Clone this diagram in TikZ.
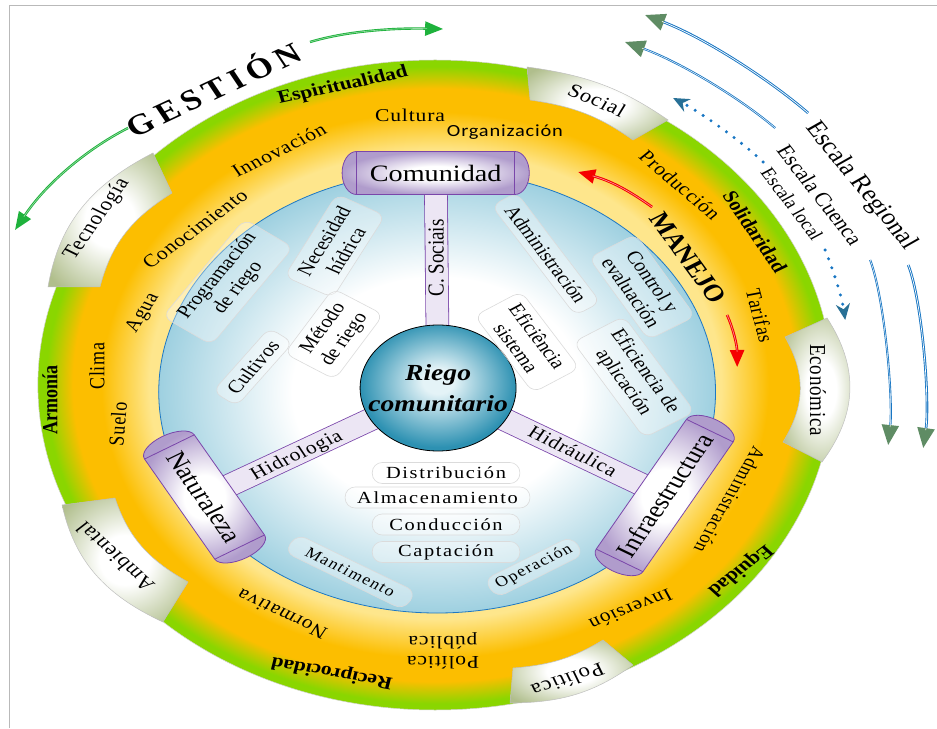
\documentclass[tikz,border=0pt]{standalone}
\usepackage{fontspec}
\setmainfont{Liberation Serif}
\newfontfamily\sansf[LetterSpace=4]{Carlito}
\newfontfamily\spcf[LetterSpace=4]{Liberation Serif}
\newfontfamily\widef[LetterSpace=8]{Liberation Serif}
\usetikzlibrary{arrows.meta}
\definecolor{ringG}{RGB}{138,214,0}
\definecolor{ringO}{RGB}{252,190,0}
\definecolor{ringY}{RGB}{254,230,140}
\definecolor{blueE}{RGB}{158,208,224}
\definecolor{blueL}{RGB}{30,120,195}
\definecolor{riegoD}{RGB}{45,145,178}
\definecolor{riegoL}{RGB}{228,243,247}
\definecolor{cylP}{RGB}{176,156,204}
\definecolor{cylB}{RGB}{122,70,170}
\definecolor{barF}{RGB}{236,230,244}
\definecolor{tabG}{RGB}{176,190,140}
\definecolor{arrG}{RGB}{30,178,60}
\definecolor{escB}{RGB}{25,118,195}
\definecolor{escH}{RGB}{95,140,100}
\definecolor{dotH}{RGB}{40,112,150}
\definecolor{arrR}{RGB}{245,0,0}
\pgfdeclareradialshading{ringshade}{\pgfpoint{0bp}{0bp}}{color(0bp)=(ringY); color(18bp)=(ringY); color(21bp)=(ringO); color(22.8bp)=(ringO); color(24.5bp)=(ringG); color(25bp)=(ringG); color(50bp)=(ringG)}
\pgfdeclareradialshading{blueshade}{\pgfpoint{0bp}{0bp}}{color(0bp)=(white); color(13bp)=(white); color(25bp)=(blueE); color(50bp)=(blueE)}
\pgfdeclareradialshading{riegoshade}{\pgfpoint{0bp}{3bp}}{color(0bp)=(riegoL); color(5bp)=(riegoL); color(25bp)=(riegoD); color(50bp)=(riegoD)}
\pgfdeclareradialshading{cylshade}{\pgfpoint{0bp}{0bp}}{color(0bp)=(white); color(8bp)=(white); color(25bp)=(cylP); color(50bp)=(cylP)}
\pgfdeclareradialshading{tabshade}{\pgfpoint{0bp}{0bp}}{color(0bp)=(white); color(10bp)=(white); color(32bp)=(tabG); color(50bp)=(tabG)}
\newcommand\cylbody[2]{%
  \shade[shading=cylshade, draw=cylB, line width=0.8pt] (-#1,-#2) -- (#1,-#2)
    arc[start angle=-90,end angle=90,x radius=12,y radius=#2] -- (-#1,#2)
    arc[start angle=90,end angle=270,x radius=12,y radius=#2] -- cycle;
  \draw[cylB, line width=0.8pt] (-#1,-#2) -- (-#1,#2) (#1,-#2) -- (#1,#2);}
\begin{document}
\begin{tikzpicture}[x=1pt,y=1pt,xscale=1.2,transform shape,
  every node/.style={inner sep=0pt, text=black},
  ringtxt/.style={font=\spcf\fontsize{18}{20}\selectfont},
  ringbold/.style={font=\bfseries\fontsize{18}{20}\selectfont},
  tabtxt/.style={font=\spcf\fontsize{19}{21}\selectfont},
  cyltxt/.style={font=\fontsize{23.5}{25}\selectfont},
  boxtxt/.style={draw=gray!28, line width=0.6pt, rounded corners=9pt, fill=white, fill opacity=0.35, text opacity=1, inner xsep=9pt, inner ysep=6pt, align=center, font=\fontsize{18}{21}\selectfont},
  pill/.style={draw=gray!28, line width=0.6pt, rounded corners=10pt, fill=white, fill opacity=0.35, text opacity=1, font=\widef\fontsize{17}{18}\selectfont, minimum height=21pt, minimum width=123pt},
  tabsh/.style={shading=tabshade, draw=gray!50, line width=0.5pt},
  bar/.style={draw=cylB, line width=0.8pt, double=barF, double distance=22pt},
  garrow/.style={draw=arrG, line width=2.4pt, -{Triangle[length=18pt,width=14pt]}},
  gline/.style={draw=white!55!arrG, line width=0.6pt, shorten >=16pt},
  rarrow/.style={draw=arrR, line width=2.6pt, -{Triangle[length=17pt,width=14pt]}},
  rline/.style={draw=white!60!arrR, line width=0.6pt, shorten >=15pt},
  escarrow/.style={draw=escB, line width=2.6pt, -{Triangle[length=20pt,width=17pt,color=escH]}},
  escline/.style={draw=white, line width=0.7pt, shorten >=18pt},
  dotarrow/.style={draw=escB, line width=3.4pt, dash pattern=on 0pt off 9.5pt, line cap=round, -{Stealth[length=16pt,width=14pt,color=dotH]}}
]
\useasboundingbox (0,0) rectangle (780.83,728);
% frame
\coordinate (fa) at (8.3,0);
\coordinate (fb) at (8.3,722);
\coordinate (fc) at (781,722);
\draw[gray!55, line width=1pt] (fa) -- (fb) -- (fc);
% main centres
\coordinate (ctr) at (362.5,343);
\coordinate (bctr) at (364.2,336);
\coordinate (rc) at (365,340);
\coordinate (comunC) at (363,555);
\coordinate (naturC) at (170.4,231);
\coordinate (infraC) at (553.8,232.5);
% outer ring
\shade[shading=ringshade, draw=gray!35, line width=0.5pt] (ctr) ellipse [x radius=331, y radius=325];
% tabs
\shade[tabsh] (689.2,410) to[bend left=30] (685,266) -- (652.5,286) to[bend right=26] (654.2,391) -- cycle;
\shade[tabsh] (439.2,661) to[bend left=15] (556.7,608) -- (527.5,588) to[bend right=15] (441.7,628) -- cycle;
\shade[tabsh] (40,441) to[bend left=25] (127.5,575) -- (143.3,535) to[bend right=20] (83.3,441) -- cycle;
\shade[tabsh] (135.8,106) to[bend left=25] (51.7,223) -- (95.8,230) to[bend right=20] (156.7,146) -- cycle;
\shade[tabsh] (527.5,63) to[bend left=20] (425,25) -- (427.5,60) to[bend right=15] (502.5,88) -- cycle;
% inner blue field
\shade[shading=blueshade, draw=blueL, line width=0.8pt] (bctr) ellipse [x radius=232, y radius=221];
% bars (connectors)
\draw[bar] (comunC) -- (rc);
\draw[bar] (naturC) -- (rc);
\draw[bar] (infraC) -- (rc);
% central circle
\shade[shading=riegoshade, draw=black, line width=0.8pt] (rc) ellipse [x radius=65, y radius=63];
\node[font=\bfseries\itshape\fontsize{23}{31}\selectfont, align=center] (riego) at (rc) {Riego\\comunitario};
% cylinders
\begin{scope}[shift={(comunC)}] \cylbody{66}{21.5} \end{scope}
\node[cyltxt] (comun) at (comunC) {Comunidad};
\begin{scope}[shift={(naturC)}, rotate=-59.7] \cylbody{58}{24} \end{scope}
\node[cyltxt, rotate=-59.7] (natur) at (naturC) {Naturaleza};
\begin{scope}[shift={(infraC)}, rotate=59.9] \cylbody{75}{22.5} \end{scope}
\node[cyltxt, rotate=59.9] (infra) at (infraC) {Infraestructura};
% bar labels
\node[font=\fontsize{19}{20}\selectfont, rotate=90] (csoc) at (363.6,470) {C. Sociais};
\node[font=\spcf\fontsize{18}{20}\selectfont, rotate=29] (hidrol) at (247.5,272) {Hidrologia};
\node[font=\spcf\fontsize{18}{20}\selectfont, rotate=-30.5] (hidrau) at (477.5,277) {Hidráulica};
% inner boxes
\node[boxtxt, rotate=55] (prog) at (190,446) {Programación\\de riego};
\node[boxtxt, rotate=62] (neces) at (279,482) {Necesidad\\hídrica};
\node[boxtxt, rotate=58] (metodo) at (278.3,394) {Método\\de riego};
\node[boxtxt, rotate=53.5] (cultiv) at (210.8,361) {Cultivos};
\node[boxtxt, rotate=-57.5] (admin) at (455,474) {Administración};
\node[boxtxt, rotate=-58.8] (control) at (535,441) {Control y\\evaluación};
\node[boxtxt, rotate=-57.6] (efsis) at (439.2,386) {Eficiência\\sistema};
\node[boxtxt, rotate=-58.3] (efapl) at (528.3,351) {Eficiencia de\\aplicación};
\node[pill] (distr) at (371.7,255) {Distribución};
\node[pill, minimum width=154pt] (almac) at (364.6,230.5) {Almacenamiento};
\node[pill] (conduc) at (371.7,203.5) {Conducción};
\node[pill] (capt) at (371.7,176) {Captación};
\node[pill, rotate=-30.3, minimum width=115pt, font=\widef\fontsize{15}{16}\selectfont] (mant) at (292,156) {Mantimento};
\node[pill, rotate=31, minimum width=85pt, font=\widef\fontsize{15}{16}\selectfont] (oper) at (445,161) {Operación};
% ring texts
\node[ringbold, rotate=14.3] (espir) at (285.8,642) {Espiritualidad};
\node[ringbold, rotate=-60.2] (solid) at (629.2,496) {Solidaridad};
\node[ringbold, rotate=90] (armon) at (41.7,328) {Armonía};
\node[ringbold, rotate=168] (recip) at (276.7,56) {Reciprocidad};
\node[ringbold, rotate=222.6] (equid) at (616.7,158) {Equidad};
\node[ringtxt] (cult) at (341.7,613) {Cultura};
\node[font=\sansf\fontsize{17}{18}\selectfont] (organ) at (420.8,596) {Organización};
\node[ringtxt, rotate=30.3] (innov) at (232.5,578) {Innovación};
\node[ringtxt, rotate=41.2] (conoc) at (162.5,499) {Conocimiento};
\node[ringtxt, rotate=62.5] (agua) at (119.2,415) {Agua};
\node[ringtxt, rotate=90] (clima) at (80.8,362) {Clima};
\node[ringtxt, rotate=86] (suelo) at (98.3,304) {Suelo};
\node[ringtxt, rotate=150.8] (norm) at (235,114) {Normativa};
\node[ringtxt, rotate=180, align=center] (polpub) at (369.2,77) {Política\\pública};
\node[ringtxt, rotate=204.7] (inver) at (525.8,118) {Inversión};
\node[ringtxt, rotate=243.9, font=\spcf\fontsize{17}{18}\selectfont] (adminr) at (608.3,228) {Administración};
\node[ringtxt, rotate=-77.4] (tarif) at (633.3,412) {Tarifas};
\node[ringtxt, rotate=-45.7] (produc) at (566.7,543) {Producción};
\node[font=\bfseries\fontsize{23.5}{25}\selectfont, rotate=-58.8] (manejo) at (573.3,470) {MANEJO};
\node[font=\bfseries\fontsize{29}{30}\selectfont, rotate=29.2] (gestion) at (176.7,640) {G\hspace{5pt}E\hspace{5pt}S\hspace{5pt}T\hspace{5pt}I\hspace{5pt}Ó\hspace{5pt}N};
% tab texts
\node[tabtxt, rotate=-27] (social) at (497.5,628) {Social};
\node[tabtxt, rotate=-90] (econ) at (681.7,338) {Económica};
\node[tabtxt, rotate=59.7] (tecno) at (80.8,509) {Tecnología};
\node[tabtxt, rotate=132.8] (ambie) at (95.8,171) {Ambiental};
\node[tabtxt, rotate=202] (polit) at (473.3,48) {Política};
% escala texts
\node[font=\fontsize{23}{24}\selectfont, rotate=-55.8] (escreg) at (717.5,542) {Escala Regional};
\node[font=\fontsize{19.5}{21}\selectfont, rotate=-56.9] (esccue) at (683.3,533) {Escala Cuenca};
\node[font=\fontsize{17}{18}\selectfont, rotate=-57.5] (escloc) at (660,524) {Escala local};
% arrows: gestion
\coordinate (g1s) at (106.7,600); \coordinate (g1e) at (12.5,498);
\coordinate (g2s) at (258.3,686); \coordinate (g2e) at (369.2,699);
\draw[garrow] (g1s) .. controls (70.8,578) and (37.5,543) .. (g1e);
\draw[gline] (g1s) .. controls (70.8,578) and (37.5,543) .. (g1e);
\draw[garrow] (g2s) .. controls (291.7,698) and (333.3,700) .. (g2e);
\draw[gline] (g2s) .. controls (291.7,698) and (333.3,700) .. (g2e);
% arrows: manejo
\coordinate (r1s) at (543.3,521); \coordinate (r1e) at (481.7,556);
\coordinate (r2s) at (605.8,413); \coordinate (r2e) at (614.2,361);
\draw[rarrow] (r1s) .. controls (529.2,533) and (512.5,546) .. (r1e);
\draw[rline] (r1s) .. controls (529.2,533) and (512.5,546) .. (r1e);
\draw[rarrow] (r2s) .. controls (610.8,400) and (614.2,383) .. (r2e);
\draw[rline] (r2s) .. controls (610.8,400) and (614.2,383) .. (r2e);
% arrows: escalas
\coordinate (e1s) at (673.3,615); \coordinate (e1e) at (537.5,713);
\coordinate (e2s) at (645.8,600); \coordinate (e2e) at (520.8,686);
\coordinate (e3s) at (635.8,566); \coordinate (e3e) at (560.8,630);
\coordinate (e4s) at (687.5,478); \coordinate (e4e) at (704.2,408);
\coordinate (e5s) at (725,468); \coordinate (e5e) at (740,283);
\coordinate (e6s) at (756.7,463); \coordinate (e6e) at (769.2,280);
\draw[escarrow] (e1s) .. controls (641.7,648) and (587.5,690) .. (e1e);
\draw[escline] (e1s) .. controls (641.7,648) and (587.5,690) .. (e1e);
\draw[escarrow, line width=2.1pt] (e2s) .. controls (616.7,630) and (566.7,666) .. (e2e);
\draw[escline, line width=0.5pt] (e2s) .. controls (616.7,630) and (566.7,666) .. (e2e);
\draw[dotarrow] (e3s) .. controls (616.7,588) and (583.3,616) .. (e3e);
\draw[dotarrow] (e4s) .. controls (695.8,453) and (701.7,430) .. (e4e);
\draw[escarrow, line width=2.1pt] (e5s) .. controls (737.5,428) and (744.2,328) .. (e5e);
\draw[escline, line width=0.5pt] (e5s) .. controls (737.5,428) and (744.2,328) .. (e5e);
\draw[escarrow] (e6s) .. controls (768.3,428) and (775,328) .. (e6e);
\draw[escline] (e6s) .. controls (768.3,428) and (775,328) .. (e6e);
\end{tikzpicture}
\end{document}
